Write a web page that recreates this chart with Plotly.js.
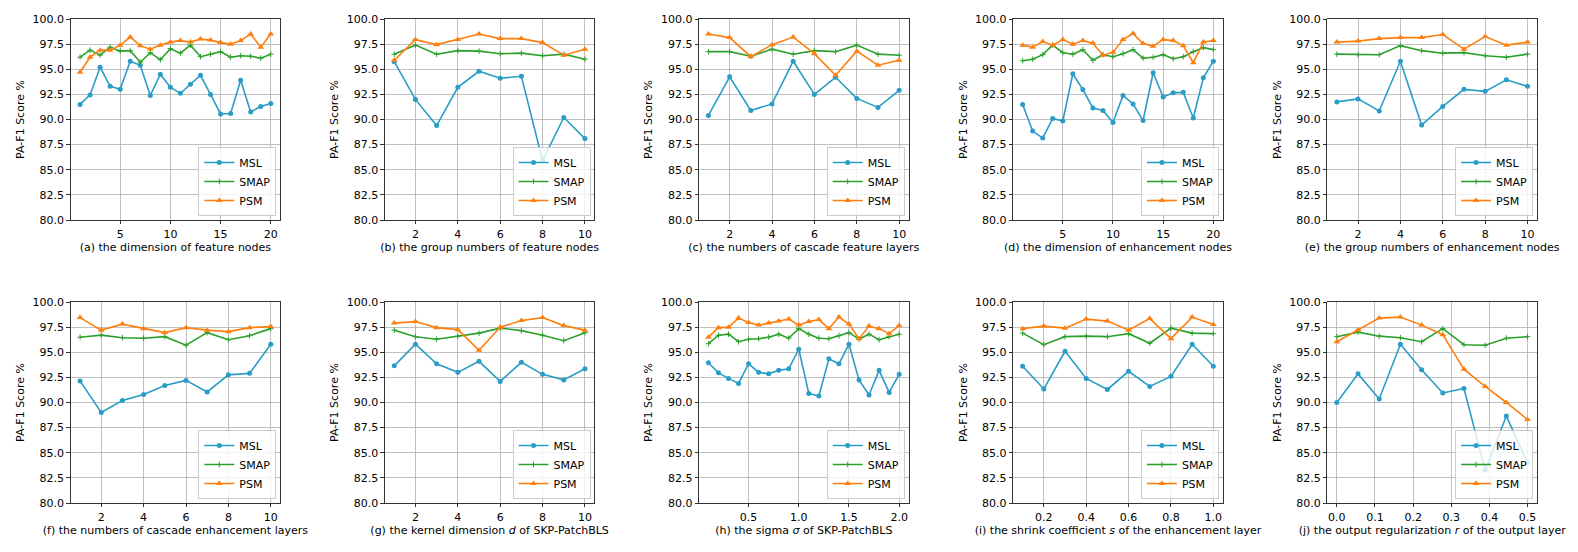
<!DOCTYPE html>
<html>
<head>
<meta charset="utf-8">
<script src="https://cdn.plot.ly/plotly-3.0.1.min.js"></script>
<style>html,body{margin:0;padding:0;background:#fff;}</style>
</head>
<body>
<div id="chart" style="width:1578px;height:552px;"></div>
<script>
// ---- data ----
const seriesNames = ['MSL', 'SMAP', 'PSM'];

const xA = [1,2,3,4,5,6,7,8,9,10,11,12,13,14,15,16,17,18,19,20];
const mslA = [91.5,92.45,95.2,93.3,93.0,95.8,95.4,92.4,94.5,93.2,92.6,93.5,94.4,92.5,90.55,90.6,93.9,90.75,91.3,91.6];
const smapA = [96.2,96.9,96.4,97.2,96.8,96.85,95.7,96.65,95.95,97.05,96.6,97.4,96.25,96.5,96.75,96.2,96.35,96.3,96.1,96.5];
const psmA = [94.7,96.2,96.9,96.9,97.4,98.2,97.35,97.0,97.4,97.7,97.85,97.7,98.0,97.9,97.65,97.5,97.85,98.5,97.2,98.5];

const xB = [1,2,3,4,5,6,7,8,9,10];
const mslB = [95.75,92.0,89.4,93.2,94.8,94.1,94.3,85.9,90.2,88.1];
const smapB = [96.5,97.4,96.5,96.85,96.8,96.55,96.6,96.35,96.5,96.0];
const psmB = [95.9,97.95,97.45,97.95,98.5,98.05,98.05,97.65,96.4,97.0];

const xC = [1,2,3,4,5,6,7,8,9,10];
const mslC = [90.4,94.25,90.9,91.55,95.8,92.5,94.2,92.1,91.2,92.9];
const smapC = [96.75,96.75,96.3,97.0,96.5,96.85,96.75,97.4,96.5,96.4];
const psmC = [98.5,98.15,96.25,97.45,98.2,96.55,94.4,96.8,95.4,95.9];

const xD = [1,2,3,4,5,6,7,8,9,10,11,12,13,14,15,16,17,18,19,20];
const mslD = [91.5,88.85,88.15,90.1,89.85,94.55,92.98,91.15,90.9,89.7,92.4,91.55,89.9,94.65,92.25,92.65,92.7,90.15,94.15,95.8];
const smapD = [95.85,96.0,96.45,97.4,96.65,96.5,96.95,95.9,96.45,96.25,96.55,96.95,96.1,96.2,96.45,96.05,96.25,96.75,97.15,96.95];
const psmD = [97.4,97.2,97.75,97.4,97.95,97.5,97.85,97.6,96.4,96.7,97.95,98.55,97.55,97.3,97.95,97.85,97.35,95.65,97.7,97.85];

const xE = [1,2,3,4,5,6,7,8,9,10];
const mslE = [91.75,92.05,90.85,95.8,89.45,91.3,93.0,92.8,93.95,93.3];
const smapE = [96.5,96.45,96.45,97.35,96.85,96.6,96.65,96.35,96.2,96.5];
const psmE = [97.7,97.8,98.05,98.15,98.15,98.45,97.0,98.25,97.4,97.7];

const xF = [1,2,3,4,5,6,7,8,9,10];
const mslF = [92.15,89.0,90.2,90.8,91.7,92.2,91.05,92.75,92.9,95.8];
const smapF = [96.5,96.7,96.45,96.4,96.55,95.7,96.95,96.25,96.65,97.35];
const psmF = [98.45,97.2,97.8,97.35,96.95,97.45,97.2,97.05,97.45,97.55];

const xG = [1,2,3,4,5,6,7,8,9,10];
const mslG = [93.65,95.8,93.85,93.0,94.1,92.1,94.0,92.8,92.25,93.35];
const smapG = [97.2,96.55,96.3,96.6,96.9,97.4,97.15,96.7,96.15,96.95];
const psmG = [97.9,98.05,97.45,97.25,95.2,97.5,98.15,98.45,97.65,97.2];

const xH = [0.1,0.2,0.3,0.4,0.5,0.6,0.7,0.8,0.9,1.0,1.1,1.2,1.3,1.4,1.5,1.6,1.7,1.8,1.9,2.0];
const mslH = [93.95,92.95,92.4,91.9,93.85,93.0,92.85,93.2,93.35,95.3,90.9,90.65,94.35,93.85,95.8,92.25,90.75,93.2,91.0,92.8];
const smapH = [95.85,96.7,96.8,96.05,96.3,96.35,96.5,96.8,96.4,97.35,96.8,96.4,96.35,96.65,96.95,96.3,96.8,96.25,96.55,96.8];
const psmH = [96.5,97.45,97.5,98.4,97.95,97.7,97.9,98.1,98.3,97.7,98.05,98.25,97.35,98.5,97.8,96.35,97.6,97.35,96.85,97.65];

const xI = [0.1,0.2,0.3,0.4,0.5,0.6,0.7,0.8,0.9,1.0];
const mslI = [93.6,91.35,95.1,92.4,91.3,93.1,91.6,92.6,95.8,93.6];
const smapI = [96.9,95.75,96.55,96.6,96.55,96.85,95.9,97.4,96.9,96.85];
const psmI = [97.35,97.6,97.4,98.3,98.1,97.2,98.35,96.35,98.5,97.75];

const xJ = [0.0,0.0556,0.1111,0.1667,0.2222,0.2778,0.3333,0.3889,0.4444,0.5];
const mslJ = [90.0,92.85,90.35,95.8,93.25,90.95,91.4,83.25,88.65,84.0];
const smapJ = [96.55,97.0,96.6,96.45,96.05,97.35,95.75,95.7,96.4,96.55];
const psmJ = [96.05,97.25,98.4,98.5,97.7,96.75,93.3,91.6,90.0,88.3];

const xTitles = [
  '(a) the dimension of feature nodes',
  '(b) the group numbers of feature nodes',
  '(c) the numbers of cascade feature layers',
  '(d) the dimension of enhancement nodes',
  '(e) the group numbers of enhancement nodes',
  '(f) the numbers of cascade enhancement layers',
  '(g) the kernel dimension <i>d</i> of SKP-PatchBLS',
  '(h) the sigma <i>σ</i> of SKP-PatchBLS',
  '(i) the shrink coefficient <i>s</i> of the enhancement layer',
  '(j) the output regularization <i>r</i> of the output layer'
];
const yTitle = 'PA-F1 Score %';
const yTicks = [80.0, 82.5, 85.0, 87.5, 90.0, 92.5, 95.0, 97.5, 100.0];
const xTicks20 = [5, 10, 15, 20];
const xTicks10 = [2, 4, 6, 8, 10];
const xTicksH = [0.5, 1.0, 1.5, 2.0];
const xTicksI = [0.2, 0.4, 0.6, 0.8, 1.0];
const xTicksJ = [0.0, 0.1, 0.2, 0.3, 0.4, 0.5];

// ---- assemble ----
const panels = [
  {x: xA, s: [mslA, smapA, psmA], ticks: xTicks20, fmt: 'd'},
  {x: xB, s: [mslB, smapB, psmB], ticks: xTicks10, fmt: 'd'},
  {x: xC, s: [mslC, smapC, psmC], ticks: xTicks10, fmt: 'd'},
  {x: xD, s: [mslD, smapD, psmD], ticks: xTicks20, fmt: 'd'},
  {x: xE, s: [mslE, smapE, psmE], ticks: xTicks10, fmt: 'd'},
  {x: xF, s: [mslF, smapF, psmF], ticks: xTicks10, fmt: 'd'},
  {x: xG, s: [mslG, smapG, psmG], ticks: xTicks10, fmt: 'd'},
  {x: xH, s: [mslH, smapH, psmH], ticks: xTicksH, fmt: '.1f'},
  {x: xI, s: [mslI, smapI, psmI], ticks: xTicksI, fmt: '.1f'},
  {x: xJ, s: [mslJ, smapJ, psmJ], ticks: xTicksJ, fmt: '.1f'}
];

const colors = ['#2a9dc6', '#2ca02c', '#ff7f0e'];
const markers = [
  {symbol: 'circle', size: 5},
  {symbol: 'cross-thin', size: 4},
  {symbol: 'triangle-up', size: 6}
];

const W = 1578, H = 552;
const FS = 11;
const layout = {
  width: W, height: H,
  margin: {l: 0, r: 0, t: 0, b: 0},
  paper_bgcolor: '#fff', plot_bgcolor: '#fff',
  font: {family: 'DejaVu Sans, sans-serif', size: FS, color: '#000'},
  showlegend: true
};
const traces = [];

panels.forEach((p, i) => {
  const row = i < 5 ? 0 : 1;
  const col = i % 5;
  const x0 = 70.5 + 314.2 * col, x1 = x0 + 209.8;
  const top = row === 0 ? 19 : 302, bottom = top + 201;
  const n = i + 1;
  const xk = n === 1 ? 'xaxis' : 'xaxis' + n;
  const yk = n === 1 ? 'yaxis' : 'yaxis' + n;
  const xr = n === 1 ? 'x' : 'x' + n;
  const yr = n === 1 ? 'y' : 'y' + n;
  const lk = n === 1 ? 'legend' : 'legend' + n;

  const xmin = Math.min(...p.x), xmax = Math.max(...p.x);
  const pad = (xmax - xmin) * 0.05;

  const common = {
    showline: true, linecolor: '#000', linewidth: 0.8, mirror: true,
    ticks: 'outside', ticklen: 3.5, tickwidth: 0.8, tickcolor: '#000',
    showgrid: true, gridcolor: '#b0b0b0', gridwidth: 0.8, zeroline: false,
    tickfont: {size: FS, color: '#000'}
  };
  layout[xk] = Object.assign({}, common, {
    domain: [x0 / W, x1 / W], anchor: yr,
    range: [xmin - pad, xmax + pad],
    tickmode: 'array', tickvals: p.ticks, tickformat: p.fmt,
    title: {text: xTitles[i], font: {size: FS}, standoff: 3}
  });
  layout[yk] = Object.assign({}, common, {
    domain: [1 - bottom / H, 1 - top / H], anchor: xr,
    range: [80, 100],
    tickmode: 'array', tickvals: yTicks, tickformat: '.1f',
    title: {text: yTitle, font: {size: FS}, standoff: 5}
  });
  layout[lk] = {
    x: (x1 - 4) / W, xanchor: 'right',
    y: 1 - (bottom - 4) / H, yanchor: 'bottom',
    bgcolor: 'rgba(255,255,255,0.8)', bordercolor: '#cccccc', borderwidth: 1,
    font: {size: FS}, tracegroupgap: 0, itemwidth: 30
  };

  p.s.forEach((vals, k) => {
    traces.push({
      type: 'scatter', mode: 'lines+markers',
      x: p.x, y: vals, name: seriesNames[k],
      xaxis: xr, yaxis: yr, legend: lk,
      line: {color: colors[k], width: 1.6},
      marker: Object.assign({color: colors[k], line: {color: colors[k], width: k === 1 ? 1 : 0}}, markers[k]),
      hoverinfo: 'x+y+name'
    });
  });
});

Plotly.newPlot('chart', traces, layout, {displayModeBar: false, staticPlot: true});
</script>
</body>
</html>
